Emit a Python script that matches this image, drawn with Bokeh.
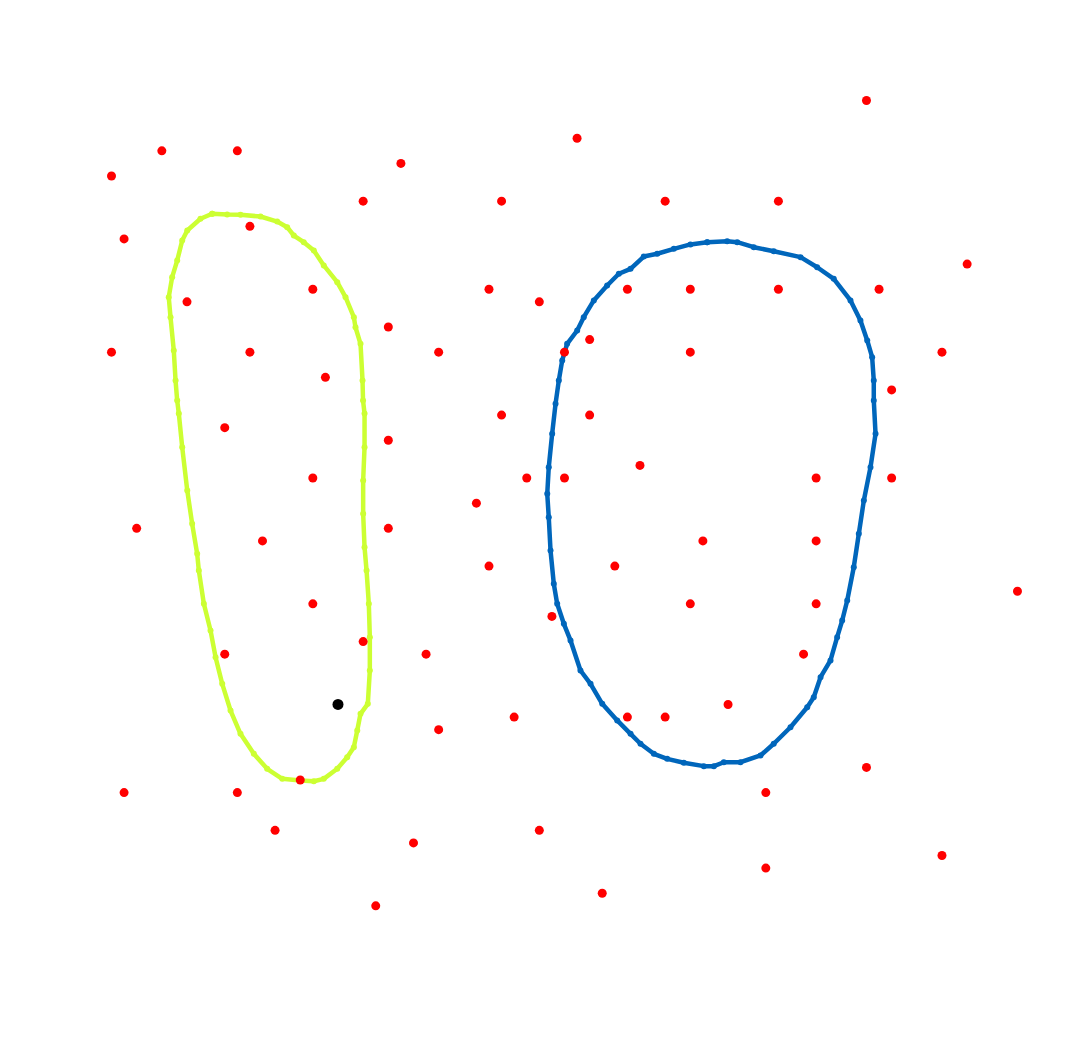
from bokeh.plotting import figure
from bokeh.models import Range1d
from bokeh.embed import file_html
from bokeh.resources import INLINE

# Red points (grid units, y downward)
red_x = [60, 37, 4, 10, 23, 0, 20, 31, 44, 53, 1, 11, 68, 6, 16, 30, 34, 41, 46, 53, 61,
         22, 0, 11, 26, 36, 38, 46, 66, 17, 62, 9, 31, 38, 22, 42, 16, 33, 36, 56, 62,
         29, 2, 22, 12, 47, 56, 30, 40, 72, 16, 46, 56, 35, 20, 9, 25, 55, 49, 32, 41,
         44, 26, 60, 15, 1, 10, 52, 13, 34, 24, 66, 52, 39, 21]
red_y = [0, 3, 4, 4, 5, 6, 8, 8, 8, 8, 11, 10, 13, 16, 15, 15, 16, 15, 15, 15, 15,
         18, 20, 20, 20, 20, 19, 20, 20, 22, 23, 26, 25, 25, 27, 29, 30, 30, 30, 30, 30,
         32, 34, 34, 35, 35, 35, 37, 37, 39, 40, 40, 40, 41, 43, 44, 44, 44, 48, 49, 49,
         49, 50, 53, 54, 55, 55, 55, 58, 58, 59, 60, 61, 63, 64]

black_x = [18]
black_y = [48]

# Yellow-green closed curve
yellow_x = [8.00, 9.19, 10.25, 11.84, 13.17, 13.96, 14.49, 15.28, 16.08, 16.87, 17.94, 18.60,
            19.26, 19.39, 19.79, 19.95, 19.99, 20.11, 20.11, 20.00, 20.00, 20.11, 20.27, 20.45,
            20.53, 20.53, 20.37, 19.79, 19.53, 19.26, 18.73, 17.94, 16.87, 16.08, 15.02, 13.57,
            12.37, 11.31, 10.25, 9.46, 8.80, 8.27, 7.87, 7.34, 6.94, 6.81, 6.41, 6.02, 5.62,
            5.35, 5.22, 5.09, 4.95, 4.69, 4.55, 4.82, 5.22, 5.62, 6.02, 7.07, 8.00]
yellow_y = [9.00, 9.06, 9.08, 9.22, 9.62, 10.07, 10.73, 11.26, 11.92, 13.11, 14.44, 15.63,
            17.22, 18.02, 19.34, 22.25, 23.84, 24.87, 27.55, 30.20, 32.85, 35.50, 37.35, 40.00,
            42.65, 45.30, 47.95, 48.74, 50.07, 51.39, 52.19, 53.11, 53.91, 54.10, 54.04, 53.91,
            53.11, 51.92, 50.33, 48.48, 46.36, 44.24, 42.12, 40.00, 37.35, 36.03, 33.64, 30.99,
            27.55, 24.87, 23.84, 22.25, 19.87, 17.22, 15.63, 14.04, 12.72, 11.13, 10.33, 9.40, 9.00]

# Blue closed curve
blue_x = [47.34, 48.93, 49.73, 51.04, 52.63, 54.76, 56.08, 57.40, 58.73, 59.52, 60.06, 60.45,
          60.58, 60.58, 60.72, 60.32, 59.79, 59.39, 58.99, 58.47, 58.07, 57.67, 57.14, 56.35,
          55.81, 55.29, 53.96, 52.63, 51.58, 49.99, 48.66, 47.87, 47.07, 45.48, 44.16, 43.10,
          42.04, 41.25, 40.19, 39.00, 38.07, 37.27, 36.48, 35.95, 35.42, 35.15, 34.89, 34.75,
          34.63, 34.75, 35.02, 35.29, 35.55, 35.82, 36.21, 37.01, 37.53, 38.33, 39.39, 40.32,
          41.25, 42.30, 43.37, 44.69, 46.01, 47.34]
blue_y = [11.26, 11.18, 11.26, 11.66, 11.98, 12.45, 13.25, 14.17, 15.89, 17.48, 19.07, 20.40,
          22.25, 23.84, 26.49, 29.14, 31.79, 34.44, 37.09, 39.74, 41.33, 42.65, 44.50, 45.83,
          47.42, 48.22, 49.81, 51.12, 52.05, 52.59, 52.59, 52.90, 52.90, 52.63, 52.32, 51.92,
          51.12, 50.33, 49.27, 47.95, 46.36, 45.30, 42.91, 41.59, 40.00, 38.41, 35.76, 33.12,
          31.26, 29.14, 26.49, 24.10, 22.25, 20.66, 19.34, 18.28, 17.22, 15.89, 14.70, 13.77,
          13.38, 12.40, 12.18, 11.79, 11.44, 11.26]

W, H = 1067, 1050
S = 12.583  # pixels per grid unit
OX, OY = 111, 100  # pixel position of grid origin

p = figure(width=W, height=H, output_backend="svg", toolbar_location=None,
           x_range=Range1d(-OX / S, (W - OX) / S),
           y_range=Range1d((H - OY) / S, -OY / S),
           min_border=0, outline_line_color=None)
p.xaxis.visible = False
p.yaxis.visible = False
p.grid.visible = False
p.background_fill_color = "white"
p.border_fill_color = "white"

p.line(yellow_x, yellow_y, line_color="#ccff33", line_width=4.5, line_join="round")
p.scatter(yellow_x, yellow_y, size=6, fill_color="#ccff33", line_color=None)

p.line(blue_x, blue_y, line_color="#0066bb", line_width=4.5, line_join="round")
p.scatter(blue_x, blue_y, size=6, fill_color="#0066bb", line_color=None)

p.scatter(red_x, red_y, size=9, fill_color="#ff0000", line_color=None)
p.scatter(black_x, black_y, size=11, fill_color="#000000", line_color=None)

open("out.html", "w").write(file_html(p, INLINE))
